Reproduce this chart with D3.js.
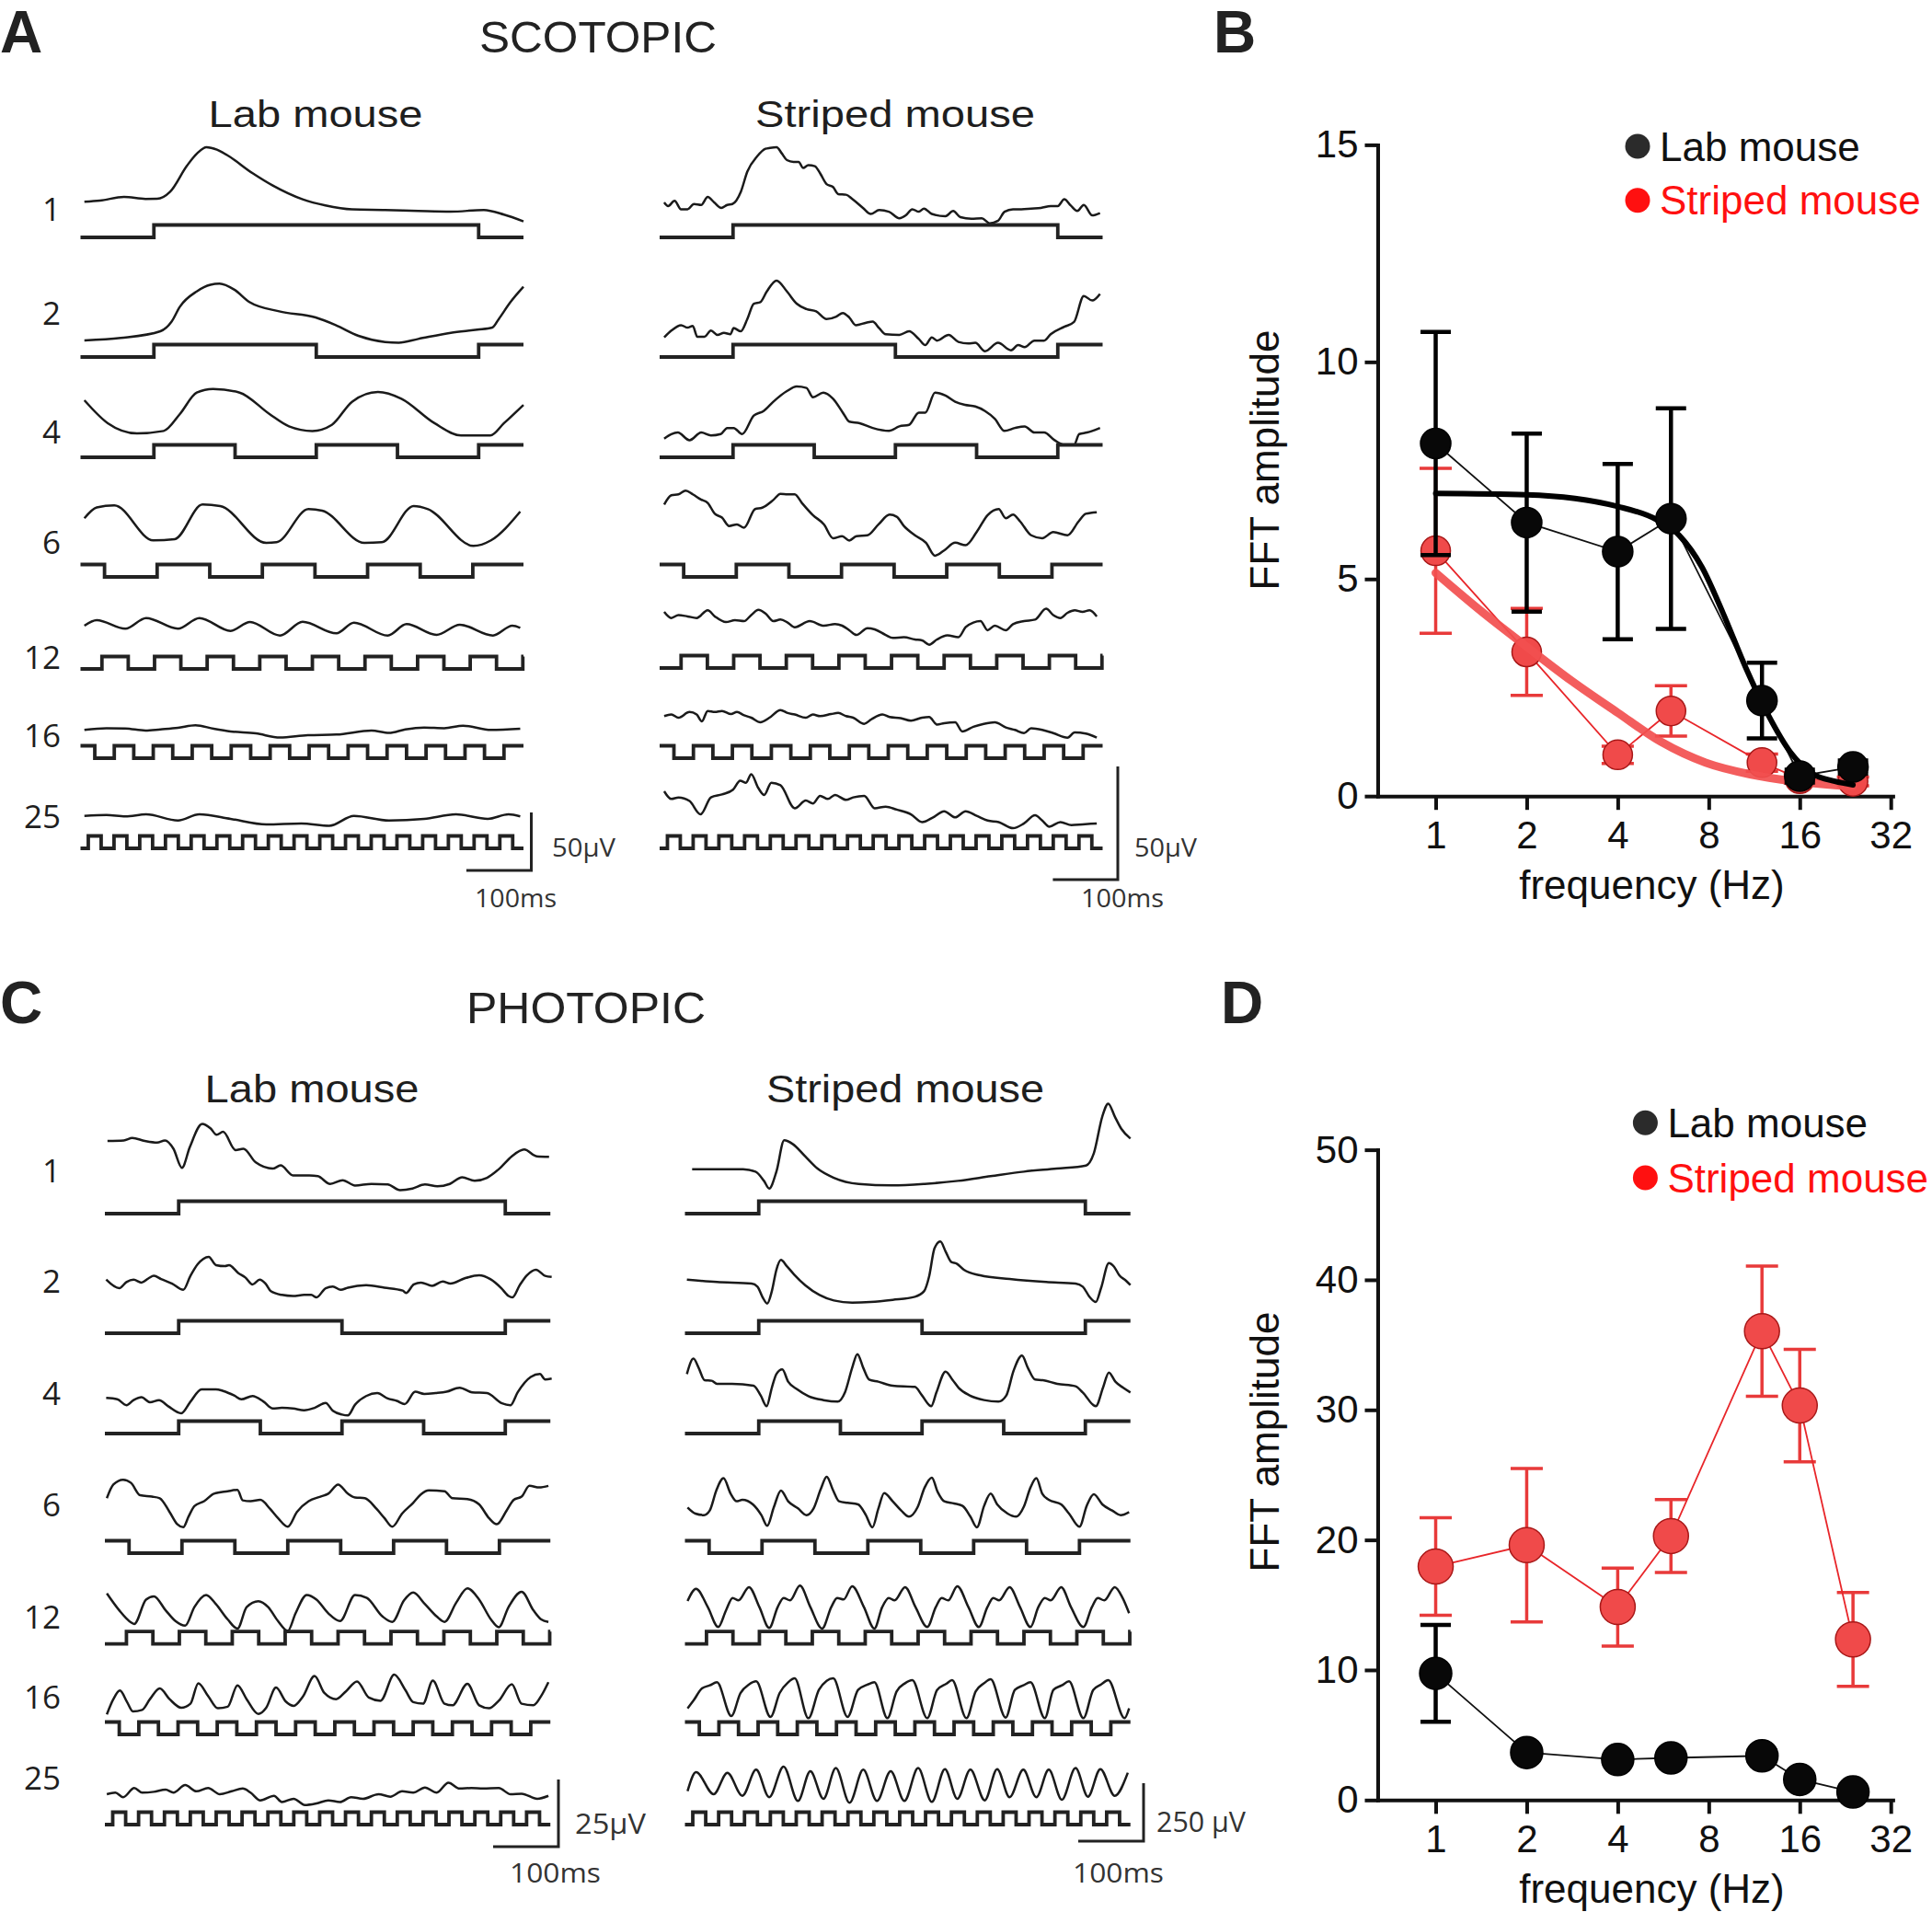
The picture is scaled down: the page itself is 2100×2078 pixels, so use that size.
<!DOCTYPE html>
<html><head><meta charset="utf-8">
<script src="https://cdn.jsdelivr.net/npm/d3@7"></script>
<style>body{margin:0;background:#fff}svg{display:block}</style>
</head><body>
<svg id="fig" width="2100" height="2078"></svg>
<script>
// ---------------- DATA ----------------
const freqLabels = ["1","2","4","6","12","16","25"];
const stimHalfMs = [500,250,125,81,40.5,30,19.8];
const stimFirstEdgeMs = [113,113,113,37,33,22,12];
const stimStartsHigh = [false,false,false,true,false,true,false];
const stimEndMs = 682;

// traces: [time ms, µV]
const scotLabTraces = [
 [[6,0],[30,1],[67,4.2],[100,2.5],[118,2.6],[138,8.7],[164,31.2],[180,42],[194,47.1],[210,45],[225,40.5],[265,24.6],[296,14],[342,2.1],[377,-3.2],[418,-6.6],[469,-7.1],[520,-7.9],[570,-8.5],[621,-7.1],[652,-11.1],[682,-16.9]],
 [[6,0],[62,2.1],[123,7.9],[140,16],[153,29.1],[179,42.3],[200,48],[214,49],[237,43.7],[260,33.1],[306,25.1],[362,19.8],[393,13.2],[428,4],[469,-1.3],[490,-1.9],[520,1.3],[570,6.6],[611,9.3],[634,11.1],[644,18.5],[662,33.1],[682,46.3]],
 [[6,0],[42,-19.8],[87,-28.6],[128,-26.5],[153,-11.9],[179,6.6],[204,9.8],[245,6.6],[291,-11.9],[321,-22.5],[357,-26.5],[387,-21.2],[418,-1.3],[458,7.1],[494,1.3],[545,-19.8],[586,-30.4],[631,-30.4],[652,-19.8],[682,-4]],
 [[6,0],[25,9.3],[52,11.1],[112,-19],[145,-18],[188,11.9],[215,10.6],[286,-21.2],[302,-20.6],[351,7.9],[372,6.6],[437,-21.2],[464,-20.6],[513,10.6],[535,7.9],[605,-23.8],[632,-19],[677,5.8]],
 [[6,0],[25,4.8],[69,-2.6],[101,6.6],[150,-2.6],[183,6.6],[231,-4.5],[261,3.2],[307,-8.5],[342,3.4],[394,-6.6],[421,2.6],[473,-8.5],[502,1.3],[548,-7.9],[584,0.8],[635,-8.5],[665,0],[677,-1.9]],
 [[6,0],[40,1.5],[69,1.3],[100,-0.5],[123,0.5],[150,1.8],[177,4],[205,1],[231,-1.3],[270,-3],[307,-6.6],[350,-4.5],[394,-4],[448,-0.5],[475,-2.6],[500,0.5],[529,2.1],[560,1.5],[589,3.7],[632,0],[677,1.1]],
 [[6,0],[40,0.8],[69,-0.5],[101,1.3],[150,-4],[183,1.3],[231,-2.6],[286,-7.4],[340,-6.6],[383,-8.5],[421,0],[475,-4],[529,-2.6],[578,1.3],[627,-2.6],[659,1.3],[677,-0.5]]
];
const scotStripedTraces = [
 [[7,0],[13,-1.6],[23,0.7],[33,-3],[43,-3],[53,-0.7],[64,-1.1],[74,2.4],[84,0],[95,-2.4],[104,-1.1],[112,-0.7],[125,4.7],[135,13.6],[150,20.3],[163,23.7],[170,24.1],[180,24.4],[188,21.7],[196,18.7],[206,17.9],[214,17.9],[221,15.2],[229,16.5],[239,16],[247,12.9],[257,8.1],[267,6.8],[275,3.7],[287,3.4],[297,1.4],[313,-2.4],[325,-5.1],[338,-3.4],[353,-4.1],[369,-7],[379,-5.7],[389,-3],[399,-4.1],[407,-2.7],[419,-5.1],[440,-6.1],[452,-3.8],[463,-6.5],[480,-7.2],[496,-7],[508,-9.2],[521,-8.1],[531,-4.1],[544,-3],[557,-3],[572,-2.7],[587,-2.4],[602,-1.6],[613,-1.6],[623,1.4],[633,-1.4],[643,-3.8],[653,-1.1],[666,-5.7],[678,-4.7]],
 [[7,0],[18,3],[33,5.4],[43,4.3],[51,5.1],[58,0.3],[69,0.3],[79,3],[89,1.1],[99,2],[109,1.4],[114,4.1],[125,2.7],[135,8.1],[145,14.9],[155,15.6],[165,20.3],[180,25.1],[196,20.3],[211,14.9],[226,12.5],[241,11.5],[257,8.1],[272,9.2],[282,10.8],[292,8.8],[302,5.4],[318,6.5],[328,7],[338,4.1],[348,1.4],[369,1.1],[384,2.7],[399,-0.7],[409,-3.4],[419,0],[427,-1.4],[445,1.1],[460,-2],[475,-2.7],[486,-2.4],[501,-6.1],[521,-2.4],[541,-5.7],[552,-3.4],[562,-4.3],[577,-1.4],[592,-1.4],[602,1.4],[623,4.7],[638,6.8],[653,18.3],[666,16.3],[678,19.2]],
 [[7,0],[18,2],[28,2.7],[46,-0.7],[64,2.7],[79,1.4],[94,2],[104,4.7],[114,4.7],[127,2],[145,10.2],[160,12.2],[175,16.3],[196,21],[211,23],[226,22.4],[236,18.3],[252,20.3],[267,17.6],[282,11.5],[292,7.5],[308,6.8],[328,4.7],[353,3.4],[369,5.4],[384,6.1],[399,11.5],[409,11.5],[424,20.3],[440,19],[455,16.3],[470,14.9],[486,14.2],[501,12.2],[516,8.8],[531,3.4],[547,4.7],[562,5.4],[577,2.7],[592,2.7],[608,-0.7],[623,-2.7],[638,-2.7],[646,2],[658,2.7],[666,3.4],[678,4.7]],
 [[7,0],[18,4.1],[29,4.5],[40,6.1],[51,4.5],[63,2.3],[74,0.7],[85,-4.1],[96,-5.8],[107,-9.5],[119,-8.8],[130,-10.2],[147,-2],[158,-1.4],[175,2],[186,4.7],[197,4.5],[208,4.5],[219,0.7],[236,-4.7],[253,-8.8],[267,-14.9],[281,-14],[292,-15.9],[303,-14],[320,-13.6],[337,-8.8],[354,-4.5],[365,-5.4],[376,-9.5],[393,-13.6],[410,-16.9],[424,-22.6],[438,-20.3],[455,-16.9],[471,-18],[488,-12.2],[505,-4.7],[522,-2],[533,-6.1],[544,-4.5],[555,-7.5],[572,-13.6],[589,-14.9],[606,-12.2],[628,-13.6],[645,-7.5],[656,-4.1],[673,-3.4]],
 [[7,0],[18,-2.7],[29,-1.4],[43,-2],[57,-2.7],[74,0.7],[85,-2],[102,-4.5],[116,-3.7],[130,-4.1],[141,-1.4],[152,0.9],[163,-0.7],[175,-4.1],[186,-3.4],[197,-4.7],[208,-6.8],[231,-4.1],[253,-6.1],[270,-5.4],[281,-6.1],[292,-8.1],[303,-10.2],[320,-7.2],[331,-7.7],[348,-10.2],[359,-11.5],[376,-11.2],[393,-12.2],[404,-12.6],[415,-14.5],[427,-12.2],[443,-10.4],[460,-11.2],[471,-6.8],[483,-4.7],[494,-4.1],[505,-8.1],[516,-6.1],[533,-8.1],[544,-5.4],[561,-4.1],[578,-3.4],[595,1.4],[606,-1.4],[617,-2.7],[628,-0.4],[639,0.7],[651,0],[662,0.7],[673,-2]],
 [[7,0],[18,0.7],[29,-0.7],[46,1.8],[57,0.7],[65,-2.3],[74,2.3],[85,1.8],[96,2.3],[110,0.9],[119,1.8],[130,0.4],[141,-0.7],[155,-2.7],[169,-0.7],[186,2.7],[197,1.4],[208,0.7],[225,-0.7],[236,0.7],[247,0],[264,0.9],[275,1.4],[287,0],[298,-0.7],[315,-3.4],[326,-1.4],[343,0.7],[354,-0.4],[371,-0.9],[387,-2],[404,-0.7],[415,-0.4],[427,-3.7],[438,-3.1],[455,-2.7],[466,-6.8],[483,-4.7],[499,-3.4],[516,-2.7],[533,-5],[547,-6.1],[561,-7.5],[572,-5.4],[589,-6.1],[606,-7.5],[628,-9.5],[639,-7.2],[656,-7.7],[673,-9.5]],
 [[7,0],[18,-3.4],[29,-2.7],[46,-4.3],[63,-10.2],[79,-2.7],[96,-1.4],[113,0.7],[124,4.7],[133,3.8],[141,7.5],[152,1.4],[161,-1.6],[172,3.8],[186,2.7],[208,-7.5],[225,-4.1],[236,-5.4],[247,-2],[259,-3.4],[270,-1.6],[287,-3.8],[298,-2.7],[315,-2],[331,-7.5],[348,-6.8],[365,-8.1],[387,-10.2],[404,-13.6],[421,-11.5],[438,-8.8],[455,-11.5],[471,-8.8],[488,-10.8],[505,-12.9],[522,-13.6],[544,-16.3],[561,-14.2],[578,-10.6],[589,-12.9],[600,-15.6],[617,-13.6],[634,-14.9],[651,-14.6],[673,-14.2]]
];
const photLabTraces = [
 [[4,0],[29,0.2],[42,1.1],[61,0],[80,-0.6],[92,0.2],[105,-2.9],[118,-10],[130,-2.3],[149,6.3],[162,4.6],[171,2.3],[181,3.4],[200,-3.4],[212,-2.9],[231,-8],[257,-10.3],[269,-9.1],[288,-12.8],[313,-12.8],[326,-13.1],[345,-16],[364,-14.6],[383,-16.6],[408,-16],[433,-16.2],[452,-18.3],[471,-17.7],[490,-16.2],[509,-16.9],[528,-16],[547,-13.5],[566,-14.8],[585,-13.7],[604,-10.3],[623,-5.7],[642,-3.2],[661,-5.7],[680,-5.9]],
 [[2,0],[22,-3.2],[33,-0.9],[44,0],[56,-1.1],[67,0.5],[75,1.4],[86,0.2],[103,-1.5],[120,-3.8],[131,1.4],[142,5.7],[159,8.5],[170,5.4],[184,5],[190,5.4],[204,2.5],[215,0.8],[226,-1.8],[237,0],[246,-1.5],[254,-4.3],[271,-5.7],[288,-6.1],[305,-5.7],[316,-5.7],[324,-6.6],[338,-3.2],[349,-2.6],[361,-3.8],[372,-3],[400,-2.1],[428,-3],[456,-4.1],[461,-5],[473,-1.8],[484,-1.1],[501,-2.3],[517,-0.7],[529,-1.5],[551,0.5],[573,1.6],[590,0.2],[607,-3.2],[618,-6.1],[624,-6.6],[635,-2.1],[646,1.6],[660,3.7],[674,1.4],[684,1]],
 [[2,0],[19,-0.5],[33,-2.7],[44,-0.8],[56,0.3],[69,-1.6],[83,-0.8],[97,-3.1],[117,-5.7],[131,-1.4],[148,3.2],[170,3.2],[181,2.6],[198,0.9],[209,-0.5],[226,0.7],[243,-1.4],[257,-3.9],[271,-3.7],[288,-3.9],[305,-4.6],[321,-3.7],[338,-1.9],[349,-4.8],[363,-6.2],[372,-6.5],[383,-2.5],[400,0.7],[417,1.8],[433,-0.2],[447,-1.1],[459,-2.3],[475,2.3],[489,1.5],[506,1.8],[523,2.3],[543,3.8],[562,2.1],[585,1.8],[607,-1.9],[621,-2.7],[632,2.1],[652,7.8],[666,8.9],[674,6.9],[684,7.2]],
 [[3,0],[13,5.1],[28,6.9],[40,5.7],[54,1.1],[72,0.6],[84,0],[99,-5.1],[111,-9.7],[120,-10.8],[128,-6.9],[137,-2.9],[152,-1.1],[167,1.7],[188,2.6],[203,3.1],[211,-0.8],[223,-1.1],[238,-0.6],[253,-4],[265,-7.4],[280,-10.6],[294,-5.1],[312,-1.1],[330,0.6],[342,1.7],[357,5.1],[372,1.7],[383,0.3],[398,0],[416,-4],[428,-7.4],[440,-10.6],[455,-5.7],[472,-1.7],[484,1.5],[496,2.9],[520,2.6],[532,0],[555,-0.3],[573,-2.3],[588,-7.4],[600,-9.7],[615,-4.6],[626,-0.6],[638,0.6],[650,4.6],[665,4],[679,4.6]],
 [[3,0],[22,-6.3],[40,-10.8],[45,-11.4],[63,-2.3],[75,-1.1],[93,-6.3],[108,-10.3],[123,-12],[137,-5.1],[155,-0.6],[170,-4],[188,-9.7],[203,-13.1],[217,-5.1],[235,-2.9],[250,-5.1],[265,-10.3],[280,-14],[292,-7.4],[309,-0.6],[324,-2.3],[342,-7.4],[360,-10.3],[383,-0.6],[401,-1.7],[425,-8.6],[440,-10.6],[458,-2.6],[472,0.3],[490,-4],[508,-8.6],[520,-10.6],[538,-3.4],[555,1.9],[573,-2.3],[591,-9.7],[603,-12.6],[618,-5.1],[638,0.6],[656,-6.3],[668,-9.7],[679,-10.6]],
 [[3,0],[13,5.7],[23,8.9],[34,4.6],[43,1.1],[57,1.7],[69,5.7],[84,9.7],[99,5.7],[117,2.5],[131,4],[143,11.6],[158,6.9],[173,2.3],[188,2.9],[203,10.8],[217,5.7],[235,0.2],[247,2.5],[262,10],[277,4.8],[289,3.2],[303,6.6],[321,14.3],[336,8],[354,5.7],[369,8.6],[386,12.3],[404,6.3],[422,5.1],[443,14.8],[460,9.1],[472,4.6],[487,4],[502,12.6],[520,4],[532,3.4],[555,11.4],[573,3.4],[588,2.3],[603,5.1],[623,11.2],[638,4],[656,3.4],[668,6.9],[679,12]],
 [[3,0],[16,0.6],[28,-1.1],[45,2.3],[57,0.6],[75,0.9],[93,1.7],[105,0.6],[123,3.4],[140,1.1],[158,2.3],[176,0],[194,1.1],[211,2.1],[223,0.6],[238,-2.3],[259,-0.6],[271,-2.9],[289,-1.7],[306,-4],[324,-3.4],[342,-2.3],[360,-2.9],[377,-1.1],[395,-1.7],[419,0],[437,-0.9],[455,1.1],[472,0.6],[490,2.5],[508,0.6],[526,4.3],[543,2.1],[561,2.3],[579,2.1],[603,2.3],[621,0],[638,0.2],[662,-1.7],[679,-0.6]]
];
const photStripedTraces = [
 [[11,0],[89,0],[108,-10.6],[121,-50.3],[129,-83.3],[140,-10.6],[152,124.4],[165,108.5],[184,55.6],[203,2.6],[228,-37],[266,-63.5],[317,-70.1],[367,-63.5],[418,-50.3],[468,-30.4],[519,-10.6],[569,2.6],[614,15.9],[626,68.8],[639,227.6],[648,283],[658,227.6],[668,174.6],[682,132.3]],
 [[3,0],[49,-10.6],[102,-17.2],[111,-30.4],[119,-76.7],[126,-103.2],[133,-50.3],[140,42.3],[147,84.7],[156,58.2],[167,22.5],[184,-23.8],[206,-66.2],[228,-90],[256,-99.2],[284,-96.6],[318,-87.3],[352,-74.1],[366,-50.3],[374,15.9],[382,134.9],[391,164],[399,121.7],[408,75.4],[416,68.8],[427,42.3],[452,18.5],[497,2.6],[553,-10.6],[598,-17.2],[609,-30.4],[620,-76.7],[629,-96.6],[637,-37],[649,71.4],[657,55.6],[665,18.5],[675,-4],[682,-23.8]],
 [[3,0],[13,66.2],[21,26.5],[30,-26.5],[41,-29.1],[49,-42.3],[72,-42.3],[105,-50.3],[116,-92.6],[125,-138.9],[133,-59.5],[140,0],[149,19.8],[158,-33.1],[172,-66.2],[189,-95.3],[212,-112.5],[234,-119.1],[245,-79.4],[256,26.5],[264,86],[273,26.5],[282,-23.8],[296,-33.1],[318,-50.3],[352,-55.6],[363,-92.6],[377,-138.9],[385,-79.4],[399,10.6],[410,-26.5],[419,-59.5],[436,-92.6],[458,-112.5],[480,-119.1],[492,-92.6],[503,13.2],[516,79.4],[525,26.5],[536,-23.8],[548,-26.5],[570,-42.3],[598,-52.9],[609,-79.4],[629,-138.9],[640,-59.5],[649,6.6],[659,-33.1],[671,-59.5],[682,-79.4]],
 [[4,0],[16,-26.5],[29,-33.1],[38,-13.2],[48,72.8],[59,125.7],[70,59.5],[79,26.5],[88,33.1],[104,13.2],[117,-33.1],[126,-79.4],[136,0],[147,72.8],[158,26.5],[173,-4],[186,-33.1],[197,-4],[208,79.4],[217,132.3],[227,72.8],[236,26.5],[249,19.8],[265,13.2],[277,-33.1],[287,-86],[296,-6.6],[305,62.2],[318,26.5],[331,-13.2],[343,-39.7],[356,0],[367,86],[378,128.3],[387,66.2],[397,26.5],[412,17.2],[425,6.6],[437,-39.7],[447,-86],[458,6.6],[468,59.5],[478,13.2],[494,-26.5],[507,-39.7],[519,4],[529,86],[538,125.7],[547,59.5],[557,33.1],[576,13.2],[588,-26.5],[604,-83.3],[615,6.6],[626,56.9],[639,13.2],[654,-13.2],[667,-33.1],[680,-19.8]],
 [[4,-6.6],[17,46.3],[35,-33.1],[51,-119.1],[63,-46.3],[73,6.6],[82,-4],[98,52.9],[114,-33.1],[129,-123],[142,-33.1],[151,6.6],[161,-4],[176,59.5],[192,-33.1],[210,-125.7],[224,-33.1],[233,6.6],[243,0],[256,56.9],[274,-33.1],[290,-125.7],[302,-33.1],[312,6.6],[321,-4],[337,52.9],[353,-33.1],[371,-119.1],[384,-33.1],[393,6.6],[403,-4],[417,56.9],[434,-33.1],[450,-119.1],[463,-33.1],[472,6.6],[481,-4],[497,52.9],[513,-33.1],[529,-119.1],[541,-33.1],[551,6.6],[560,-4],[576,52.9],[591,-33.1],[610,-119.1],[623,-33.1],[632,6.6],[642,-4],[658,52.9],[670,6.6],[680,-59.5]],
 [[4,-39.7],[13,-6.6],[26,46.3],[38,59.5],[49,72.8],[71,-72.8],[85,26.5],[98,63.5],[109,76.7],[131,-76.7],[145,26.5],[158,72.8],[168,90],[189,-82],[205,39.7],[217,79.4],[227,90],[249,-76.7],[265,39.7],[280,63.5],[290,72.8],[310,-82],[324,33.1],[337,68.8],[348,82],[371,-82],[386,39.7],[400,66.2],[409,82],[431,-82],[445,33.1],[458,68.8],[468,86],[491,-79.4],[505,39.7],[518,59.5],[529,72.8],[551,-82],[564,39.7],[577,59.5],[588,76.7],[610,-82],[625,39.7],[637,63.5],[648,82],[673,-82],[680,-39.7]],
 [[4,-33.1],[17,49],[44,-46.3],[65,46.3],[88,-52.9],[109,59.5],[129,-59.5],[151,72.8],[173,-75.4],[192,52.9],[212,-66.2],[231,66.2],[252,-83.3],[273,59.5],[294,-75.4],[315,52.9],[336,-75.4],[357,66.2],[378,-79.4],[398,62.2],[417,-66.2],[437,59.5],[459,-72.8],[478,62.2],[497,-59.5],[518,59.5],[538,-59.5],[557,59.5],[577,-70.1],[598,66.2],[617,-56.9],[636,62.2],[658,-52.9],[678,46.3]]
];

// FFT panels
const fftFreq = [1,2,4,6,12,16,24];
const scotLabFFT = [8.12,6.3,5.63,6.39,2.2,0.46,0.67];
const scotLabSEM = [2.57,2.05,2.02,2.54,0.87,0.15,0.15];
const scotStripedFFT = [5.65,3.32,0.95,1.96,0.77,0.4,0.34];
const scotStripedSEM = [1.9,1.0,0.2,0.58,0.2,0.1,0.1];
const scotLabFitFreq = [1,2,4,5.4,6.4,7.6,8.9,10.6,12.6,14.9,17.6,20.9,24];
const scotLabFitVal = [6.97,6.94,6.67,6.36,6.0,5.27,4.23,2.96,1.86,1.01,0.52,0.34,0.26];
const scotStripedFitFreq = [1,1.43,2,2.82,4,5.56,7.81,10.97,15.4,24];
const scotStripedFitVal = [5.14,4.23,3.44,2.65,1.92,1.25,0.77,0.5,0.34,0.22];
const photLabFFT = [9.74,3.65,3.11,3.24,3.4,1.58,0.62];
const photLabSEM = [3.73,0.4,0.3,0.3,0.4,0.3,0.2];
const photStripedFFT = [17.95,19.6,14.84,20.3,36.05,30.33,12.35];
const photStripedSEM = [3.75,5.9,3.0,2.8,5.0,4.33,3.6];
const xTicks = [1,2,4,8,16,32];
const yTicksB = [0,5,10,15];
const yTicksD = [0,10,20,30,40,50];

// ---------------- DRAW ----------------
const svg = d3.select("#fig");
const ARIAL = "'Liberation Sans', Arial, Helvetica, sans-serif";
const MYR = "'Open Sans', 'Noto Sans', sans-serif";
const INK = "#1e1e1e";

function txt(x,y,s,size,opts={}){
  const t = svg.append("text").attr("x",x).attr("y",y).text(s)
    .attr("font-family",opts.family||ARIAL).attr("font-size",size)
    .attr("fill",opts.fill||INK).attr("text-anchor",opts.anchor||"start");
  if(opts.weight) t.attr("font-weight",opts.weight);
  if(opts.len) t.attr("textLength",opts.len).attr("lengthAdjust","spacingAndGlyphs");
  if(opts.rotate) t.attr("transform",`rotate(${opts.rotate},${x},${y})`);
  return t;
}

// panel letters & section titles
txt(0,57,"A",64,{weight:"bold",fill:"#222"});
txt(1319,57,"B",64,{weight:"bold",fill:"#222"});
txt(0,1112,"C",64,{weight:"bold",fill:"#222"});
txt(1327,1112,"D",64,{weight:"bold",fill:"#222"});
txt(650,57,"SCOTOPIC",48,{anchor:"middle",fill:"#222",len:258});
txt(637,1112,"PHOTOPIC",48,{anchor:"middle",fill:"#222",len:260});
txt(343,138,"Lab mouse",41,{anchor:"middle",len:233});
txt(973,138,"Striped mouse",41,{anchor:"middle",len:304});
txt(339,1198,"Lab mouse",42,{anchor:"middle",len:233});
txt(984,1198,"Striped mouse",42,{anchor:"middle",len:302});

// row labels
const scotLabelY = [240,353,482,602,727,812,900];
const photLabelY = [1285,1405,1527,1648,1770,1857,1945];
freqLabels.forEach((f,i)=>{
  txt(66,scotLabelY[i],f,35,{anchor:"end",family:MYR});
  txt(66,photLabelY[i],f,35,{anchor:"end",family:MYR});
});

function stimPoints(i){
  const h = stimHalfMs[i];
  let lvl = stimStartsHigh[i]?1:0;
  const pts = [[0,lvl]];
  for(let te=stimFirstEdgeMs[i]; te<stimEndMs; te+=h){ pts.push([te,lvl]); lvl=1-lvl; pts.push([te,lvl]); }
  pts.push([stimEndMs,lvl]);
  return pts;
}

const quadrants = [
 {traces:scotLabTraces, x0:87.5, k:0.706, pxPerUV:1.26,
  zeroY:[219.3,370,435,563.3,680,793.3,886.7], stimY:[258,388,497,627,727,824,922],
  bar:{x:577.5,y:946,uv:50}, uvLabel:{x:600,y:931,s:"50µV",len:69,size:28}, msLabel:{x:516,y:986,len:89,size:28}},
 {traces:scotStripedTraces, x0:717, k:0.706, pxPerUV:2.46,
  zeroY:[220,366.7,476.7,548.3,665,778.3,860], stimY:[258,388,497,627,726,824,922],
  bar:{x:1215,y:956,uv:50}, uvLabel:{x:1233,y:931,s:"50µV",len:68,size:28}, msLabel:{x:1175,y:986,len:90,size:28}},
 {traces:photLabTraces, x0:114, k:0.71, pxPerUV:2.92,
  zeroY:[1240,1390.7,1519.3,1628.3,1731.7,1863.3,1950], stimY:[1319,1449,1558,1688,1786.7,1885,1983],
  bar:{x:607,y:2007,uv:25}, uvLabel:{x:625,y:1993,s:"25µV",len:77,size:31}, msLabel:{x:554,y:2046,len:99,size:30}},
 {traces:photStripedTraces, x0:744.5, k:0.71, pxPerUV:0.252,
  zeroY:[1270.7,1390.7,1493.3,1638.3,1738.3,1846.7,1938.3], stimY:[1319,1449,1558,1688,1786.7,1885,1983],
  bar:{x:1243,y:2001,uv:250}, uvLabel:{x:1257,y:1991,s:"250 µV",len:97,size:31}, msLabel:{x:1166,y:2046,len:99,size:30}}
];

const STIM_H = 13.5;
quadrants.forEach(q=>{
  const xs = d3.scaleLinear().domain([0,stimEndMs]).range([q.x0, q.x0+stimEndMs*q.k]);
  const g = svg.append("g");
  q.traces.forEach((tr,i)=>{
    const ys = d3.scaleLinear().domain([0,100]).range([q.zeroY[i], q.zeroY[i]-100*q.pxPerUV]);
    const line = d3.line().x(d=>xs(d[0])).y(d=>ys(d[1])).curve(d3.curveMonotoneX);
    g.append("path").attr("d",line(tr)).attr("fill","none").attr("stroke","#1a1a1a")
      .attr("stroke-width",2.5).attr("stroke-linejoin","round");
    const sl = d3.line().x(d=>xs(d[0])).y(d=>q.stimY[i]-d[1]*STIM_H);
    g.append("path").attr("d",sl(stimPoints(i))).attr("fill","none").attr("stroke","#222")
      .attr("stroke-width",3.8).attr("stroke-linejoin","miter");
  });
  // scale bar
  const barH = q.bar.uv*q.pxPerUV, barW = 100*q.k;
  g.append("path").attr("d",`M${q.bar.x-barW},${q.bar.y}H${q.bar.x}V${q.bar.y-barH}`)
    .attr("fill","none").attr("stroke","#222").attr("stroke-width",3);
  txt(q.uvLabel.x,q.uvLabel.y,q.uvLabel.s,q.uvLabel.size,{family:MYR,len:q.uvLabel.len,fill:"#333"});
  txt(q.msLabel.x,q.msLabel.y,"100ms",q.msLabel.size,{family:MYR,len:q.msLabel.len,fill:"#333"});
});

// ---------- FFT panels ----------
const RED = "#ff1010";
function fftPanel(opt){
  const x = d3.scaleLog().base(2).domain([0.643,32.5]).range([1497.5,2057.4]);
  const y = d3.scaleLinear().domain([0,opt.ymax]).range([opt.y0,opt.ytop]);
  const g = svg.append("g");
  const ax = g.append("g").attr("transform",`translate(0,${opt.y0})`)
    .call(d3.axisBottom(x).tickValues(xTicks).tickFormat(d3.format("d")).tickSizeInner(15).tickSizeOuter(0).tickPadding(12));
  const ay = g.append("g").attr("transform",`translate(1497.5,0)`)
    .call(d3.axisLeft(y).tickValues(opt.yticks).tickSizeInner(14).tickSizeOuter(0).tickPadding(7));
  [ax,ay].forEach(a=>{
    a.attr("font-family",ARIAL).attr("font-size",42);
    a.selectAll("path,line").attr("stroke","#111").attr("stroke-width",4);
    a.select(".domain").attr("stroke-linecap","square");
    a.selectAll("text").attr("fill","#111");
  });
  const errs = (vals,sem,color,w,half)=>{
    vals.forEach((v,i)=>{
      const cx = x(fftFreq[i]), yt=y(v+sem[i]), yb=y(v-sem[i]);
      g.append("path").attr("d",`M${cx},${yt}V${yb}M${cx-half},${yt}H${cx+half}M${cx-half},${yb}H${cx+half}`)
        .attr("stroke",color).attr("stroke-width",w).attr("fill","none");
    });
  };
  const conn = (vals,color)=>{
    g.append("path").attr("d",d3.line().x((d,i)=>x(fftFreq[i])).y(d=>y(d))(vals))
      .attr("fill","none").attr("stroke",color).attr("stroke-width",1.8);
  };
  const dots = (vals,fill,stroke,r)=>{
    vals.forEach((v,i)=>{
      g.append("circle").attr("cx",x(fftFreq[i])).attr("cy",y(v)).attr("r",r)
        .attr("fill",fill).attr("stroke",stroke).attr("stroke-width",1.5);
    });
  };
  const fit = (fx,fv,color,w,op)=>{
    const pts = fx.map((f,i)=>[x(f),y(fv[i])]);
    g.append("path").attr("d",d3.line().curve(d3.curveMonotoneX)(pts))
      .attr("fill","none").attr("stroke",color).attr("stroke-width",w).attr("opacity",op).attr("stroke-linecap","round");
  };
  errs(opt.sVals,opt.sSem,"#e83a3a",3.5,17.5);
  conn(opt.sVals,"#e8262a");
  dots(opt.sVals,"#f04a4a","#a81818",opt.rS);
  if(opt.sFit) fit(opt.sFit[0],opt.sFit[1],"#f24f4f",9,0.92);
  errs(opt.lVals,opt.lSem,"#000",4.5,16.5);
  conn(opt.lVals,"#111");
  if(opt.lFit) fit(opt.lFit[0],opt.lFit[1],"#000",6,1);
  dots(opt.lVals,"#080808","#000",opt.rL);
  txt(1390,opt.ylabY,"FFT amplitude",44,{anchor:"middle",rotate:-90,fill:"#111"});
  txt(1795.5,opt.xlabY,"frequency (Hz)",44,{anchor:"middle",fill:"#111"});
  svg.append("circle").attr("cx",opt.legX).attr("cy",opt.legY1).attr("r",13.5).attr("fill","#2b2b2b");
  txt(opt.legX+24,opt.legY1+15.5,"Lab mouse",44,{fill:"#111"});
  svg.append("circle").attr("cx",opt.legX).attr("cy",opt.legY2).attr("r",13.5).attr("fill",RED);
  txt(opt.legX+24,opt.legY2+15.5,"Striped mouse",44,{fill:RED});
}

fftPanel({ymax:15, y0:865.2, ytop:157.4, yticks:yTicksB,
  lVals:scotLabFFT, lSem:scotLabSEM, sVals:scotStripedFFT, sSem:scotStripedSEM,
  lFit:[scotLabFitFreq,scotLabFitVal], sFit:[scotStripedFitFreq,scotStripedFitVal],
  rL:16.5, rS:16, ylabY:500, xlabY:977, legX:1780, legY1:159, legY2:217.7});
fftPanel({ymax:50, y0:1956.3, ytop:1249.6, yticks:yTicksD,
  lVals:photLabFFT, lSem:photLabSEM, sVals:photStripedFFT, sSem:photStripedSEM,
  rL:17.5, rS:19, ylabY:1567, xlabY:2068, legX:1788.4, legY1:1220.3, legY2:1280});
</script>
</body></html>
